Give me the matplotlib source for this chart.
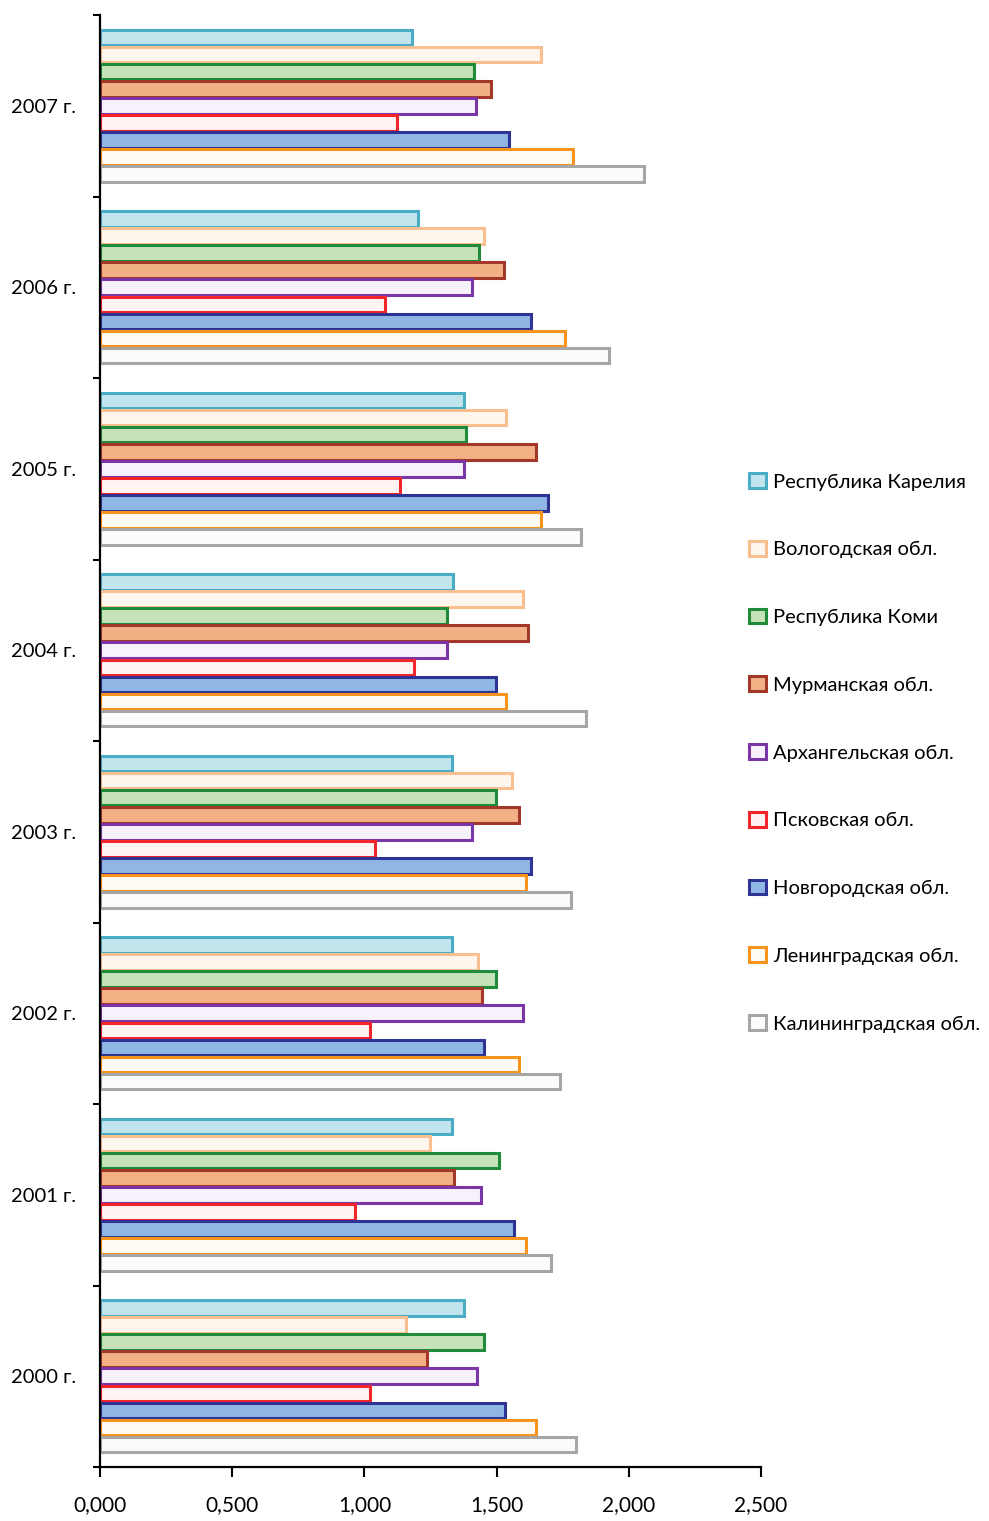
import numpy as np
import matplotlib.pyplot as plt
from matplotlib.ticker import FuncFormatter, FixedLocator

plt.rcParams['font.family'] = ['Lato', 'DejaVu Sans']

years = ['2000 г.', '2001 г.', '2002 г.', '2003 г.', '2004 г.', '2005 г.', '2006 г.', '2007 г.']

regions = ['Республика Карелия', 'Вологодская обл.', 'Республика Коми', 'Мурманская обл.',
           'Архангельская обл.', 'Псковская обл.', 'Новгородская обл.',
           'Ленинградская обл.', 'Калининградская обл.']

# значения по годам 2000..2007
karelia = [1.375, 1.331, 1.331, 1.331, 1.335, 1.377, 1.203, 1.180]
vologda = [1.157, 1.248, 1.430, 1.558, 1.600, 1.536, 1.452, 1.668]
komi = [1.453, 1.509, 1.498, 1.498, 1.312, 1.384, 1.433, 1.414]
murmansk = [1.236, 1.339, 1.445, 1.585, 1.619, 1.649, 1.528, 1.479]
arkhangelsk = [1.424, 1.441, 1.600, 1.407, 1.312, 1.377, 1.407, 1.422]
pskov = [1.022, 0.964, 1.021, 1.040, 1.188, 1.135, 1.078, 1.123]
novgorod = [1.530, 1.566, 1.452, 1.630, 1.498, 1.694, 1.630, 1.547]
leningrad = [1.649, 1.611, 1.585, 1.611, 1.536, 1.668, 1.759, 1.789]
kaliningrad = [1.800, 1.706, 1.740, 1.781, 1.838, 1.819, 1.925, 2.057]

series = [karelia, vologda, komi, murmansk, arkhangelsk, pskov, novgorod, leningrad, kaliningrad]

edge_colors = ['#4bacc6', '#f9bf8f', '#1f8b3b', '#a3372a', '#7a35a6', '#f0262a', '#2f3494', '#f7941d', '#a6a6a6']
fill_colors = ['#c2e4ec', '#fff6ee', '#c6e2b8', '#f2b084', '#f6f1fa', '#fff3f3', '#8fb6e4', '#fffaf3', '#fbfbfb']

fig = plt.figure(figsize=(9.89, 15.21), dpi=100)
ax = fig.add_axes([0.1011, 0.0355, 0.6684, 0.9546])

y = np.arange(len(years))
step = 0.094
h = 0.086
for i, vals in enumerate(series):
    ax.barh(y + (4 - i) * step, vals, height=h, color=fill_colors[i],
            edgecolor=edge_colors[i], linewidth=2.2, label=regions[i])

ax.set_xlim(0, 2.5)
ax.set_ylim(-0.5, 7.5)
ax.set_xticks(np.arange(0, 2.51, 0.5))
ax.xaxis.set_major_formatter(FuncFormatter(lambda v, p: f'{v:.3f}'.replace('.', ',')))
ax.set_yticks(y)
ax.set_yticklabels(years)
ax.yaxis.set_minor_locator(FixedLocator(np.arange(-0.5, 7.6, 1)))

for s in ['top', 'right']:
    ax.spines[s].set_visible(False)
for s in ['left', 'bottom']:
    ax.spines[s].set_linewidth(1.6)

ax.tick_params(axis='y', which='major', length=0, pad=17, labelsize=14.5)
ax.tick_params(axis='y', which='minor', length=5, width=1.5)
ax.tick_params(axis='x', which='major', length=7, width=1.5, pad=13, labelsize=15)

fig.legend(loc='center left', bbox_to_anchor=(0.757, 0.505), frameon=False,
           fontsize=14.5, labelspacing=2.5, handlelength=0.85, handleheight=0.75,
           handletextpad=0.35, borderpad=0, borderaxespad=0)

fig.savefig('out.png', dpi=100)
